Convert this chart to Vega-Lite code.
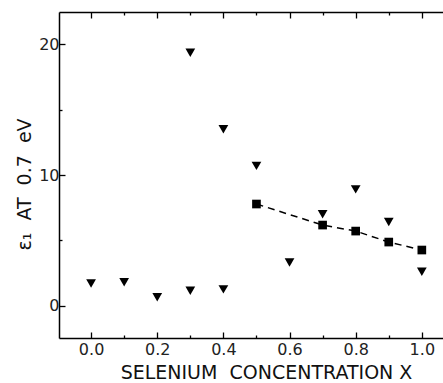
{
  "$schema": "https://vega.github.io/schema/vega-lite/v6.json",
  "width": 384,
  "height": 326,
  "autosize": "none",
  "padding": {"left": 59, "top": 12, "right": 0, "bottom": 45},
  "background": "white",
  "config": {
    "view": {"stroke": null},
    "axis": {
      "domainColor": "black",
      "domainWidth": 1.5,
      "tickColor": "black",
      "tickWidth": 1.3,
      "labelFont": "DejaVu Sans",
      "labelFontSize": 16,
      "labelColor": "#222",
      "titleFont": "DejaVu Sans",
      "titleFontSize": 18,
      "titleFontWeight": "normal",
      "titleColor": "#111",
      "grid": false
    }
  },
  "datasets": {
    "tri": [
      {"x": 0.0, "y": 1.7},
      {"x": 0.1, "y": 1.8},
      {"x": 0.2, "y": 0.65},
      {"x": 0.3, "y": 1.15},
      {"x": 0.3, "y": 19.35},
      {"x": 0.4, "y": 1.25},
      {"x": 0.4, "y": 13.5},
      {"x": 0.5, "y": 10.7},
      {"x": 0.6, "y": 3.3},
      {"x": 0.7, "y": 7.0},
      {"x": 0.8, "y": 8.9},
      {"x": 0.9, "y": 6.4},
      {"x": 1.0, "y": 2.6}
    ],
    "sq": [
      {"x": 0.5, "y": 7.78},
      {"x": 0.7, "y": 6.17},
      {"x": 0.8, "y": 5.71},
      {"x": 0.9, "y": 4.87},
      {"x": 1.0, "y": 4.26}
    ]
  },
  "resolve": {"axis": {"x": "independent", "y": "independent"}},
  "layer": [
    {
      "data": {"name": "tri"},
      "mark": {"type": "point", "shape": "triangle-down", "filled": true, "color": "black", "opacity": 1, "size": 95},
      "encoding": {
        "x": {
          "field": "x", "type": "quantitative",
          "scale": {"domain": [-0.097, 1.064], "nice": false, "zero": false},
          "axis": {
            "orient": "bottom",
            "values": [0, 0.1, 0.2, 0.3, 0.4, 0.5, 0.6, 0.7, 0.8, 0.9, 1.0],
            "tickSize": {"condition": {"test": "round(datum.value*10) % 2 == 0", "value": -6}, "value": -3},
            "labelExpr": "round(datum.value*10) % 2 == 0 ? format(datum.value, '.1f') : ''",
            "labelPadding": 9,
            "labelFlush": false,
            "labelOverlap": false,
            "title": "SELENIUM\u00a0 CONCENTRATION X",
            "titleFontSize": 19,
            "titleX": 207,
            "titleY": 40,
            "titleAlign": "center",
            "titleBaseline": "alphabetic",
            "titleAnchor": null
          }
        },
        "y": {
          "field": "y", "type": "quantitative",
          "scale": {"domain": [-2.47, 22.47], "nice": false, "zero": false},
          "axis": {
            "orient": "left",
            "values": [0, 5, 10, 15, 20],
            "tickSize": {"condition": {"test": "datum.value % 10 == 0", "value": -6}, "value": -3},
            "labelExpr": "datum.value % 10 == 0 ? datum.label : ''",
            "labelPadding": 6,
            "labelFlush": false,
            "labelOverlap": false,
            "title": "ε₁\u00a0 AT\u00a0 0.7\u00a0 eV",
            "titleFontSize": 19,
            "titleAngle": -90,
            "titleX": -29,
            "titleY": 172,
            "titleAlign": "center",
            "titleBaseline": "alphabetic",
            "titleAnchor": null
          }
        }
      }
    },
    {
      "data": {"name": "sq"},
      "mark": {"type": "line", "color": "black", "strokeWidth": 1.5, "strokeDash": [7, 5]},
      "encoding": {
        "x": {
          "field": "x", "type": "quantitative",
          "axis": {
            "orient": "top",
            "values": [0, 0.1, 0.2, 0.3, 0.4, 0.5, 0.6, 0.7, 0.8, 0.9, 1.0],
            "tickSize": {"condition": {"test": "round(datum.value*10) % 2 == 0", "value": -6}, "value": -3},
            "labels": false,
            "title": null
          }
        },
        "y": {"field": "y", "type": "quantitative", "axis": null}
      }
    },
    {
      "data": {"name": "sq"},
      "mark": {"type": "square", "filled": true, "color": "black", "opacity": 1, "size": 75},
      "encoding": {
        "x": {"field": "x", "type": "quantitative", "axis": null},
        "y": {"field": "y", "type": "quantitative", "axis": null}
      }
    }
  ]
}
